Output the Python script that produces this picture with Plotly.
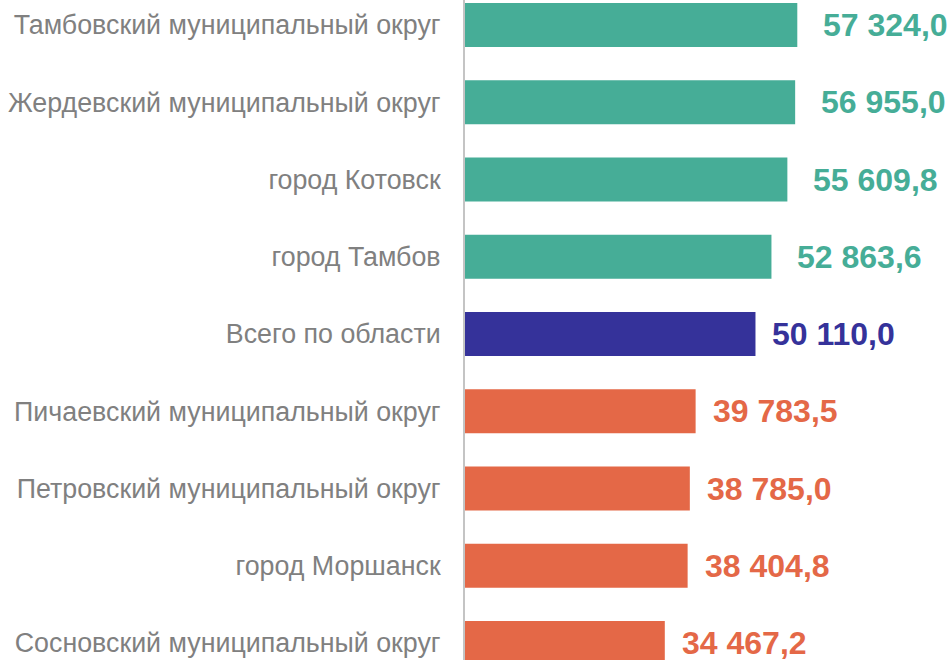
import plotly.graph_objects as go

categories = [
    "Тамбовский муниципальный округ",
    "Жердевский муниципальный округ",
    "город Котовск",
    "город Тамбов",
    "Всего по области",
    "Пичаевский муниципальный округ",
    "Петровский муниципальный округ",
    "город Моршанск",
    "Сосновский муниципальный округ",
]
values = [57324.0, 56955.0, 55609.8, 52863.6, 50110.0, 39783.5, 38785.0, 38404.8, 34467.2]
groups = ["above", "above", "above", "above", "total", "below", "below", "below", "below"]

palette = {"above": "#46AD97", "total": "#35329A", "below": "#E46847"}
shift = {"above": 24, "total": 15, "below": 15}
colors = [palette[g] for g in groups]

def fmt(v):
    s = f"{v:,.1f}"
    return s.replace(",", " ").replace(".", ",")

fig = go.Figure(go.Bar(
    x=values, y=categories, orientation="h",
    marker=dict(color=colors, line=dict(width=0)),
    hoverinfo="skip",
))

for c, v, g in zip(categories, values, groups):
    fig.add_annotation(
        x=v, y=c, xref="x", yref="y", text=f"<b>{fmt(v)}</b>",
        showarrow=False, xanchor="left", yanchor="middle", xshift=shift[g],
        font=dict(family="Arial, Liberation Sans, sans-serif", size=32, color=palette[g]),
    )

fig.update_layout(
    width=950, height=660,
    margin=dict(l=465, r=0, t=0, b=0),
    plot_bgcolor="white", paper_bgcolor="white",
    bargap=0.43,
    showlegend=False,
    xaxis=dict(range=[0, 83665], visible=False, showgrid=False, zeroline=False),
    yaxis=dict(
        type="category",
        range=[8.22, -0.3236],
        showline=True, linecolor="#C4C4C4", linewidth=2,
        ticks="", showgrid=False, zeroline=False,
        ticklabelstandoff=17,
        tickfont=dict(family="Arial, Liberation Sans, sans-serif", size=26.8, color="#808080"),
    ),
)

fig.write_html(
    "out.html",
    config={"displayModeBar": False},
    post_script="document.body.style.margin='0';document.body.style.overflow='hidden';",
)
